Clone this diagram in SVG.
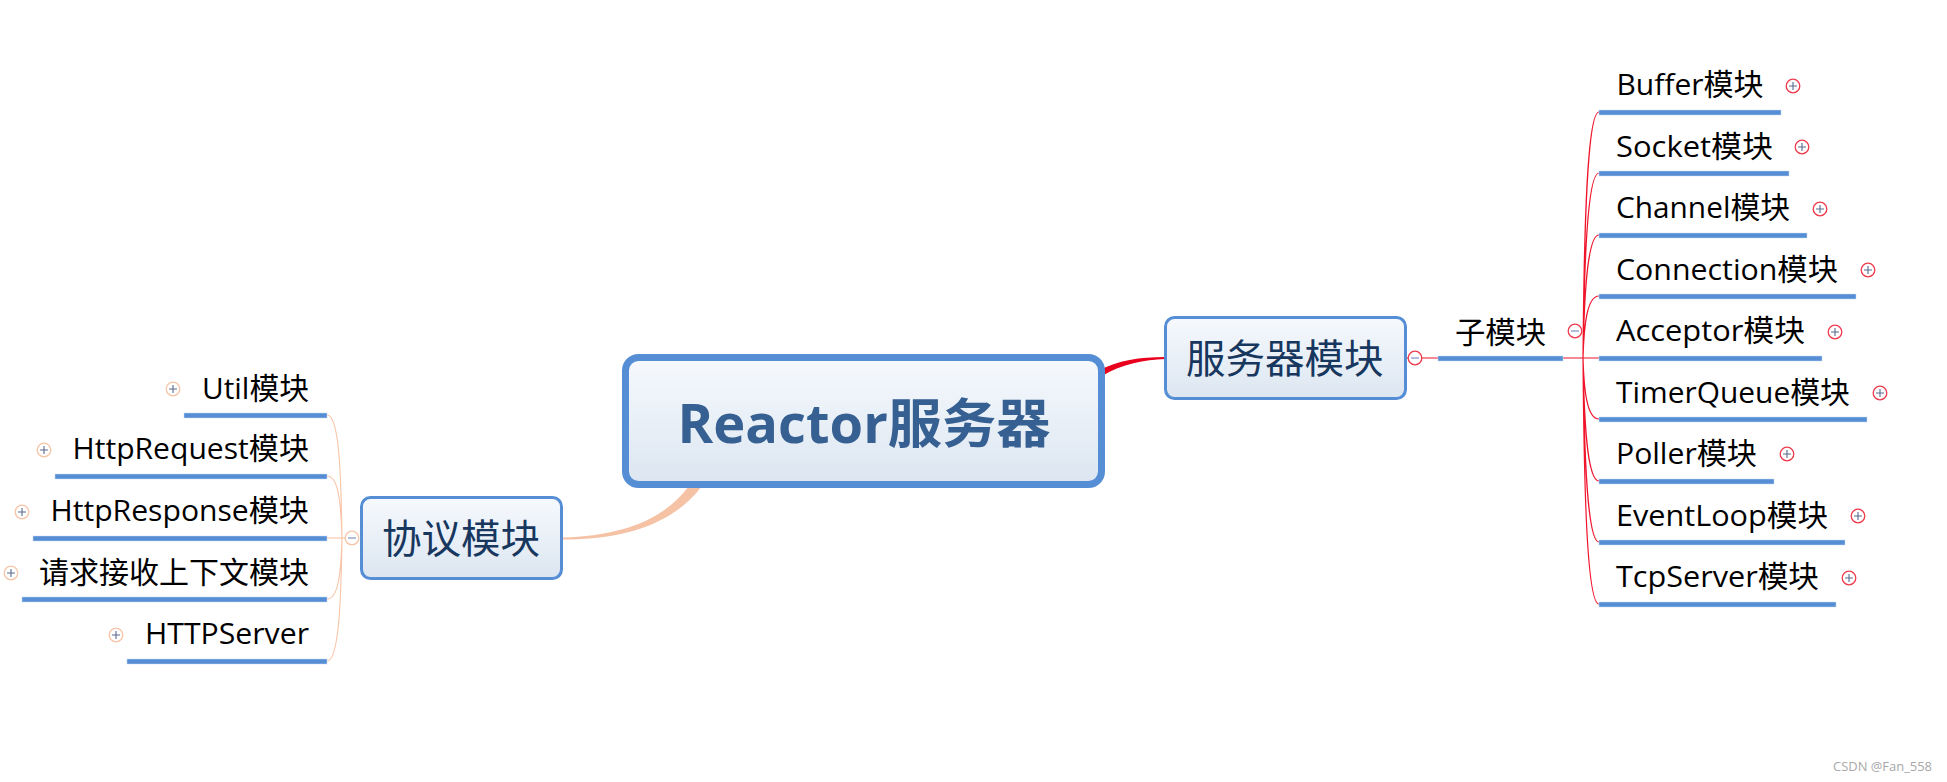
<svg xmlns="http://www.w3.org/2000/svg" width="1947" height="782" viewBox="0 0 1947 782">
<style>
text{font-family:"Open Sans","Noto Sans CJK SC",sans-serif}
.leaf{font-size:30px;fill:#000}
.sub{font-size:39.5px;fill:#17375e}
.root{font-size:53px;font-weight:700;fill:#376092}
.box{fill:url(#g);stroke:#558ed5;stroke-width:3}
.bar{fill:#558ed5;stroke:#c6d9f1;stroke-width:.5}
.r{fill:none;stroke:#f0142a;stroke-width:1.2}
.s{fill:none;stroke:#f8c4a6;stroke-width:1.1}
.ex{fill:#fff;stroke-width:1.3}
.exr{stroke:#ef3a4c}
.exs{stroke:#f8c4a6}
.pl{fill:none;stroke:#5a6a8e;stroke-width:1.1}
.mi{fill:none;stroke:#7f8fc4;stroke-width:1.2}
</style>
<defs>
<linearGradient id="g" x1="0" y1="0" x2="0" y2="1"><stop offset="0" stop-color="#f6f9fd"/><stop offset="1" stop-color="#dce6f1"/></linearGradient>
<g id="pr"><circle class="ex exr" r="6.8"/><path class="pl" d="M-4 0H4M0-4V4"/></g>
<g id="ps"><circle class="ex exs" r="6.8"/><path class="pl" d="M-4 0H4M0-4V4"/></g>
<g id="mr"><circle class="ex exr" r="6.8"/><path class="mi" d="M-4 0H4"/></g>
<g id="ms"><circle class="ex exs" r="6.8"/><path class="mi" d="M-4 0H4"/></g>
</defs>
<rect width="1947" height="782" fill="#fff"/>
<g id="connectors">
<path d="M1165 357C1140 357 1118 360 1098 371L1102 376C1122 364 1145 359.500 1165 359Z" fill="#e8001c"/>
<path d="M562 537.500C620 536 663 521 689 486L702 486C672 526 620 540 562 539.500Z" fill="#f6c2a6"/>
<path class="r" d="M1406 358H1438M1563 358H1599"/>
<path class="r" d="M1583 358C1584 230 1587 112 1599 112M1583 358C1584 270 1587 173 1599 173M1583 358C1584 300 1587 235 1599 235M1583 358C1584 325 1587 296 1599 296M1583 358C1584 391 1587 419 1599 419M1583 358C1584 420 1587 481 1599 481M1583 358C1584 450 1587 542 1599 542M1583 358C1584 490 1587 604 1599 604"/>
<path class="s" d="M345 538H327"/>
<path class="s" d="M342 538C341 470 339 415 327 415M342 538C341 505 339 476 327 476M342 538C341 570 339 599 327 599M342 538C341 600 339 661 327 661"/>
</g>
<g id="root"><rect x="625.500" y="357.500" width="476" height="127" rx="13" fill="url(#g)" stroke="#558ed5" stroke-width="7"/><text class="root" x="677.500" y="443" textLength="373" lengthAdjust="spacingAndGlyphs">Reactor服务器</text></g>
<g id="server"><rect class="box" x="1165.500" y="317.500" width="240" height="81" rx="9"/><text class="sub" x="1186" y="373">服务器模块</text><use href="#mr" x="1415" y="358"/></g>
<g id="protocol"><rect class="box" x="361.500" y="497.500" width="200" height="81" rx="9"/><text class="sub" x="382" y="553">协议模块</text><use href="#ms" x="352" y="538"/></g>
<g id="sub"><rect class="bar" x="1438" y="356" width="125" height="5"/><text class="leaf" x="1455" y="343" textLength="91" lengthAdjust="spacingAndGlyphs">子模块</text><use href="#mr" x="1575" y="331"/></g>
<g id="n-buffer"><rect class="bar" x="1599" y="110" width="182" height="5"/><text class="leaf" x="1616.500" y="95" textLength="147" lengthAdjust="spacingAndGlyphs">Buffer模块</text><use href="#pr" x="1793" y="86"/></g>
<g id="n-socket"><rect class="bar" x="1599" y="171" width="190" height="5"/><text class="leaf" x="1616" y="157" textLength="157" lengthAdjust="spacingAndGlyphs">Socket模块</text><use href="#pr" x="1802" y="147"/></g>
<g id="n-channel"><rect class="bar" x="1599" y="233" width="208" height="5"/><text class="leaf" x="1616" y="218" textLength="174" lengthAdjust="spacingAndGlyphs">Channel模块</text><use href="#pr" x="1820" y="209"/></g>
<g id="n-connection"><rect class="bar" x="1599" y="294" width="257" height="5"/><text class="leaf" x="1616" y="280" textLength="222" lengthAdjust="spacingAndGlyphs">Connection模块</text><use href="#pr" x="1868" y="270"/></g>
<g id="n-acceptor"><rect class="bar" x="1599" y="356" width="223" height="5"/><text class="leaf" x="1616" y="341" textLength="189" lengthAdjust="spacingAndGlyphs">Acceptor模块</text><use href="#pr" x="1835" y="332"/></g>
<g id="n-timerqueue"><rect class="bar" x="1599" y="417" width="268" height="5"/><text class="leaf" x="1616" y="403" textLength="234" lengthAdjust="spacingAndGlyphs">TimerQueue模块</text><use href="#pr" x="1880" y="393"/></g>
<g id="n-poller"><rect class="bar" x="1599" y="479" width="175" height="5"/><text class="leaf" x="1616" y="464" textLength="141" lengthAdjust="spacingAndGlyphs">Poller模块</text><use href="#pr" x="1787" y="454"/></g>
<g id="n-eventloop"><rect class="bar" x="1599" y="540" width="246" height="5"/><text class="leaf" x="1616" y="526" textLength="212" lengthAdjust="spacingAndGlyphs">EventLoop模块</text><use href="#pr" x="1858" y="516"/></g>
<g id="n-tcpserver"><rect class="bar" x="1599" y="602" width="237" height="5"/><text class="leaf" x="1616" y="587" textLength="203" lengthAdjust="spacingAndGlyphs">TcpServer模块</text><use href="#pr" x="1849" y="578"/></g>
<g id="n-util"><rect class="bar" x="184" y="413" width="143" height="5"/><text class="leaf" x="202" y="399" textLength="107" lengthAdjust="spacingAndGlyphs">Util模块</text><use href="#ps" x="173" y="389"/></g>
<g id="n-httprequest"><rect class="bar" x="55" y="474" width="272" height="5"/><text class="leaf" x="72.500" y="459" textLength="236.500" lengthAdjust="spacingAndGlyphs">HttpRequest模块</text><use href="#ps" x="44" y="450"/></g>
<g id="n-httpresponse"><rect class="bar" x="33" y="536" width="294" height="5"/><text class="leaf" x="50.500" y="521" textLength="258.500" lengthAdjust="spacingAndGlyphs">HttpResponse模块</text><use href="#ps" x="22" y="512"/></g>
<g id="n-context"><rect class="bar" x="22" y="597" width="305" height="5"/><text class="leaf" x="39" y="583" textLength="270" lengthAdjust="spacingAndGlyphs">请求接收上下文模块</text><use href="#ps" x="11" y="573"/></g>
<g id="n-httpserver"><rect class="bar" x="127" y="659" width="200" height="5"/><text class="leaf" x="145" y="644" textLength="164" lengthAdjust="spacingAndGlyphs">HTTPServer</text><use href="#ps" x="116" y="635"/></g>
<text x="1833" y="771" font-size="13.500" fill="#a8a8a8" textLength="99" lengthAdjust="spacingAndGlyphs">CSDN @Fan_558</text>
</svg>
